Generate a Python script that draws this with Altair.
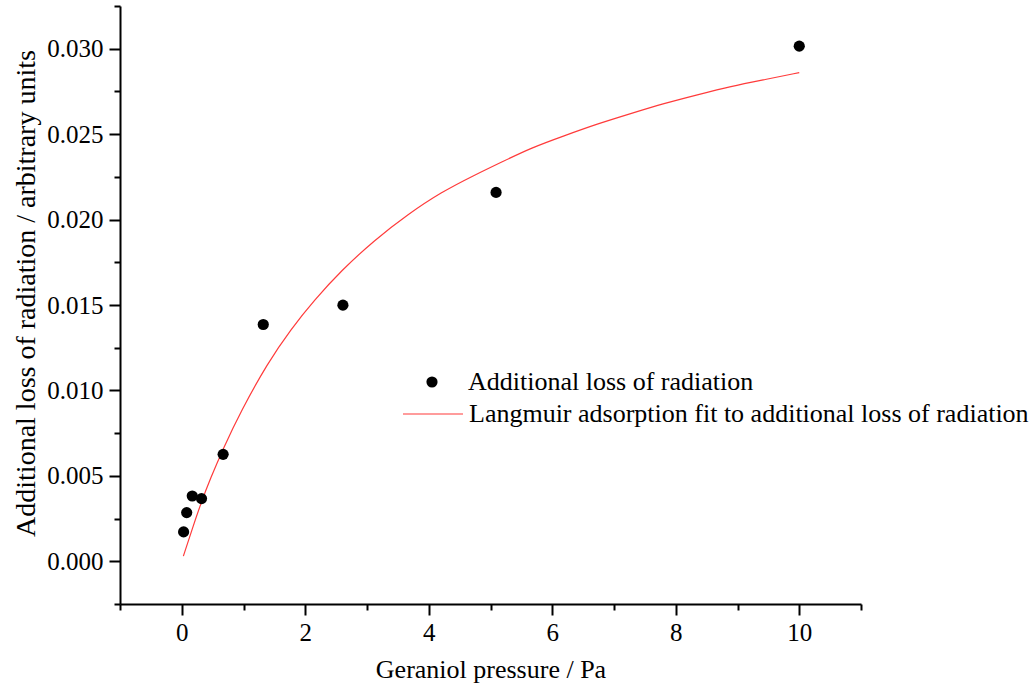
import altair as alt
import pandas as pd

pressure = [0.03, 0.08, 0.17, 0.32, 0.67, 1.32, 2.61, 5.09, 10.0]
loss = [0.00172, 0.00285, 0.00382, 0.00367, 0.00626, 0.01386, 0.01499, 0.02159, 0.03015]

# Fit curve
fit_x = [0.026, 0.17, 0.32, 0.46, 0.67, 0.96, 1.39, 1.77, 2.15, 2.58, 3.12, 3.66,
         4.2, 4.74, 5.2, 5.66, 6.19, 6.73, 7.27, 7.81, 8.35, 8.89, 9.45, 10.0]
fit_y = [0.0003, 0.0019, 0.0035, 0.0048, 0.0066, 0.0088, 0.0116, 0.0136, 0.0153,
         0.0170, 0.0188, 0.0203, 0.0216, 0.0226, 0.0234, 0.0242, 0.0249, 0.0256,
         0.0262, 0.0268, 0.0273, 0.0278, 0.0282, 0.0286]

x_ticks = list(range(-1, 12))
y_ticks = [round(-0.0025 + 0.0025 * i, 4) for i in range(15)]

s1 = "Additional loss of radiation"
s2 = "Langmuir adsorption fit to additional loss of radiation"

pts = pd.DataFrame({"x": pressure, "y": loss, "series": s1})
fit = pd.DataFrame({"x": fit_x, "y": fit_y, "series": s2})

FONT = "Liberation Serif"

xscale = alt.Scale(domain=[-1, 11], nice=False, zero=False)
yscale = alt.Scale(domain=[-0.0025, 0.0325], nice=False, zero=False)

xaxis = alt.Axis(
    title="Geraniol pressure / Pa",
    values=x_ticks,
    labelExpr="datum.value % 2 == 0 ? format(datum.value, 'd') : ''",
    tickSize={"condition": {"test": "datum.value % 2 != 0", "value": 6}, "value": 11},
    grid=False,
    labelPadding=5,
    titlePadding=11,
)
yaxis = alt.Axis(
    title="Additional loss of radiation / arbitrary units",
    titleFontSize=28,
    titleY=287,
    values=y_ticks,
    labelExpr="abs(round(datum.value * 200) - datum.value * 200) < 0.01 ? format(datum.value, '.3f') : ''",
    tickSize={"condition": {"test": "abs(round(datum.value * 200) - datum.value * 200) > 0.01", "value": 6}, "value": 11},
    grid=False,
    labelPadding=6,
    titlePadding=6,
)

points = alt.Chart(pts).mark_circle(size=125, opacity=1).encode(
    x=alt.X("x:Q", scale=xscale, axis=xaxis),
    y=alt.Y("y:Q", scale=yscale, axis=yaxis),
    fill=alt.Fill("series:N", scale=alt.Scale(domain=[s1], range=["black"]),
                  legend=alt.Legend(title=None, orient="none", legendX=299, legendY=363,
                                    symbolType="circle", symbolSize=125, labelOffset=23,
                                    labelFont=FONT, labelFontSize=26, labelColor="black",
                                    padding=0, labelLimit=900)),
)

line = alt.Chart(fit).mark_line(strokeWidth=1.2, interpolate="basis").encode(
    x=alt.X("x:Q", scale=xscale),
    y=alt.Y("y:Q", scale=yscale),
    stroke=alt.Stroke("series:N", scale=alt.Scale(domain=[s2], range=["#ff3b3b"]),
                      legend=alt.Legend(title=None, orient="none", legendX=282, legendY=377,
                                        symbolType="stroke", symbolSize=3600, symbolStrokeWidth=1.2,
                                        labelOffset=5,
                                        labelFont=FONT, labelFontSize=26, labelColor="black",
                                        padding=0, labelLimit=900)),
)

chart = alt.layer(line, points).resolve_legend(fill="independent", stroke="independent").properties(
    width=741, height=598, background="white",
    padding={"left": 12, "top": 5, "right": 5, "bottom": 5},
).configure_view(stroke=None).configure_axis(
    domainColor="black", domainWidth=2, tickColor="black", tickWidth=2,
    labelFont=FONT, labelFontSize=25, labelColor="black",
    titleFont=FONT, titleFontSize=26, titleColor="black", titleFontWeight="normal",
)

chart.save("out.html", embed_options={"renderer": "svg", "actions": False})
